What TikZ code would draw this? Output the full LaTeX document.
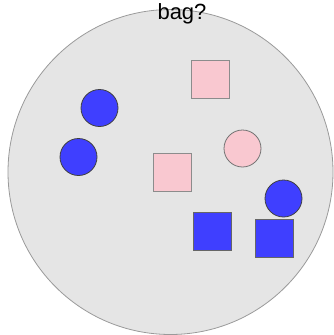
\documentclass[tikz,border=0pt]{standalone}
\usepackage{fontspec}
\setmainfont{Liberation Sans}
\definecolor{bagfill}{HTML}{E5E5E5}
\definecolor{bagline}{HTML}{9A9A9A}
\definecolor{myblue}{HTML}{3F3FFF}
\definecolor{mypink}{HTML}{F9C8D0}
\tikzset{
  bag/.style={circle,draw=bagline,fill=bagfill,line width=0.8pt,minimum size=325pt,inner sep=0pt},
  bluedot/.style={circle,draw=black!75,fill=myblue,line width=0.8pt,minimum size=37pt,inner sep=0pt},
  pinkdot/.style={circle,draw=black!55,fill=mypink,line width=0.8pt,minimum size=37pt,inner sep=0pt},
  bluesq/.style={rectangle,draw=black!60,fill=myblue,line width=0.8pt,minimum size=38pt,inner sep=0pt},
  pinksq/.style={rectangle,draw=black!45,fill=mypink,line width=0.8pt,minimum size=38pt,inner sep=0pt},
  lbl/.style={font=\fontsize{22}{24}\selectfont,inner sep=0pt}
}
\begin{document}
\begin{tikzpicture}[x=1pt,y=-1pt]
\useasboundingbox (0,0) rectangle (333,335);
\node[bag] (bag) at (170.5,172) {};
\node[lbl,anchor=base] (title) at (182,19) {bag?};
\node[pinksq] (ps1) at (210,79) {};
\node[pinksq] (ps2) at (172,172) {};
\node[bluedot] (bc1) at (99.5,108) {};
\node[bluedot] (bc2) at (78.5,157) {};
\node[pinkdot] (pc1) at (242.5,148.5) {};
\node[bluedot] (bc3) at (283.5,198.5) {};
\node[bluesq] (bs1) at (212,231) {};
\node[bluesq] (bs2) at (274,238) {};
\end{tikzpicture}
\end{document}
